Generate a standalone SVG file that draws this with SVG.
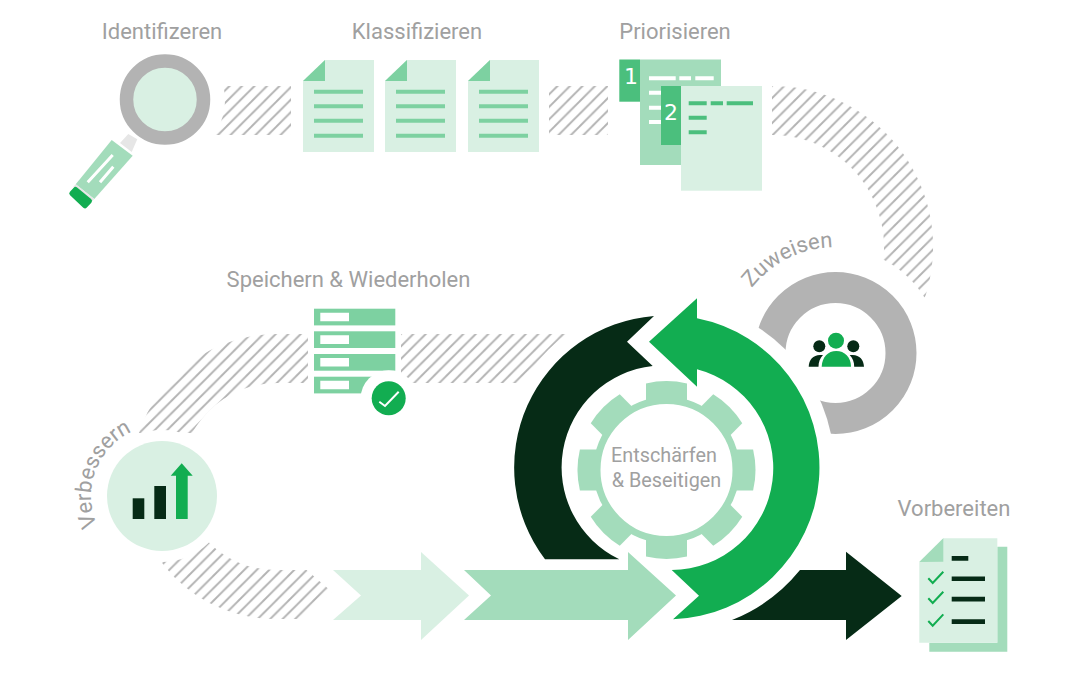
<svg xmlns="http://www.w3.org/2000/svg" width="1078" height="686" viewBox="0 0 1078 686">
<style>
.lbl{font-family:Roboto,"Liberation Sans",sans-serif;font-size:22px;fill:#a0a0a0}
.small{font-size:19.800px}
.mid{text-anchor:middle}
.hatch{fill:none;stroke-width:49}
.pale{fill:#d9f0e3}.soft{fill:#a3dcbb}.mint{fill:#7dd1a1}.tab{fill:#4bbf7d}.green{fill:#12ad51}.dark{fill:#062b16}.white{fill:#fff}
.tick{fill:none;stroke:#12ad51;stroke-width:2}
</style>
<defs>
<pattern id="hatch" patternUnits="userSpaceOnUse" width="12.5" height="12.5">
<path d="M-2 5L5 -2M-2 17.500L17.500 -2" stroke="#b3b3b3" stroke-width="2" fill="none"/>
</pattern>
<pattern id="hatch-b" href="#hatch" patternTransform="translate(3 0)"/>
<pattern id="hatch-c" href="#hatch" patternTransform="translate(4.700 0)"/>
<pattern id="hatch-d" href="#hatch" patternTransform="translate(6.800 0)"/>
<pattern id="hatch-e" href="#hatch" patternTransform="translate(-1.300 0)"/>
<mask id="halo" maskUnits="userSpaceOnUse" x="0" y="0" width="1078" height="686">
<rect width="1078" height="686" fill="#fff"/>
<circle cx="165" cy="100" r="60" fill="#000"/>
<circle cx="835.500" cy="353" r="105" fill="#000"/>
<circle cx="667" cy="468" r="167.500" fill="#000"/>
<circle cx="162" cy="496" r="66" fill="#000"/>
<circle cx="388.700" cy="398.300" r="28" fill="#000"/>
<rect x="308" y="304" width="93" height="92" fill="#000"/>
<polygon points="302,566 332,592 297,624 345,624 345,566" fill="#000"/>
<rect x="100" y="433" width="130" height="50" fill="#000"/>
</mask>
<mask id="loop-halo" maskUnits="userSpaceOnUse" x="0" y="0" width="1078" height="686">
<rect width="1078" height="686" fill="#fff"/>
<circle cx="667" cy="468" r="167.500" fill="#000"/>
</mask>
<path id="doc" class="pale" d="M22 0H71V92H0V21Z"/>
<path id="tooth" class="soft" d="M-20.500 -86.600A89 89 0 0 1 20.500 -86.600V-68H-20.500Z"/>
<path id="arcZ" d="M745 298A105.500 105.500 0 0 1 860 250"/>
<path id="arcV" d="M100.500 531.500A71 71 0 0 1 180 427.300"/>
</defs>

<g id="connectors">
<g id="hatching" mask="url(#halo)">
<rect x="200" y="86" width="91" height="49" fill="url(#hatch)"/>
<rect x="549" y="86" width="59" height="49" fill="url(#hatch-b)"/>
<path class="hatch" stroke="url(#hatch-c)" d="M772 110.500A136.500 136.500 0 0 1 876.600 334.700"/>
<path class="hatch" stroke="url(#hatch-d)" d="M570 358.500H277A121.500 121.500 0 0 0 155.500 480"/>
<path class="hatch" stroke="url(#hatch-e)" d="M157.500 477A117.500 117.500 0 0 0 275 594.500H340"/>
</g>
<polygon id="arrow-pale" class="pale" points="333,570 421,570 421,552 469,595.500 421,640 421,620 333,620 361,595.500"/>
<polygon id="arrow-soft" class="soft" points="464,570 628,570 628,552 676,595.500 628,640 628,620 464,620 491,595.500"/>
<path id="arrow-dark-loop" class="dark" d="M654 316A152 152 0 0 0 545 559.300H619.300A102 102 0 0 1 652.700 366L627 341.700Z"/>
<path id="arrow-green-loop" class="green" d="M649 341.700L697 298.300V318.300A152 152 0 0 1 673 619.300L699 595.700L671.700 570A102 102 0 0 0 697 369.300V386.700Z"/>
<path id="arrow-dark-out" class="dark" d="M732 620A167.500 167.500 0 0 0 800 570H846V551.700L901.700 596L846 640V620Z"/>
</g>

<g id="identifizieren">
<text class="lbl mid" x="162" y="38.500">Identifizeren</text>
<polygon points="128.300,134 137.300,139.300 131.700,152 120,143" fill="#e6e6e6"/>
<polygon class="soft" points="111.700,140 132.700,155.700 94.300,199 75.700,184.300"/>
<polygon points="75.700,184.300 94.300,199 92.300,201 73.300,186.700" fill="#e6e6e6"/>
<path class="green" stroke="#12ad51" stroke-width="5" stroke-linejoin="round" d="M75.500 189.500L89.500 201L85 205.800L71.800 193.500Z"/>
<path d="M112.700 155L87.700 182.300M113.300 166.700L100 182.300" stroke="#fff" stroke-width="3" fill="none"/>
<circle cx="165" cy="99.500" r="38.500" fill="#d9f0e3" stroke="#b3b3b3" stroke-width="13.500"/>
</g>

<g id="klassifizieren">
<text class="lbl mid" x="417" y="38.500">Klassifizieren</text>
<g id="doc-1" transform="translate(303 60)"><use href="#doc"/><path class="mint" d="M0 21L22 0V21Z"/><path class="mint" d="M11 29.700h49v4H11zM11 44.200h49v4H11zM11 58.700h49v4H11zM11 73.700h49v4H11z"/></g>
<g id="doc-2" transform="translate(385 60)"><use href="#doc"/><path class="mint" d="M0 21L22 0V21Z"/><path class="mint" d="M11 29.700h49v4H11zM11 44.200h49v4H11zM11 58.700h49v4H11zM11 73.700h49v4H11z"/></g>
<g id="doc-3" transform="translate(468 60)"><use href="#doc"/><path class="mint" d="M0 21L22 0V21Z"/><path class="mint" d="M11 29.700h49v4H11zM11 44.200h49v4H11zM11 58.700h49v4H11zM11 73.700h49v4H11z"/></g>
</g>

<g id="priorisieren">
<text class="lbl mid" x="675" y="38.500">Priorisieren</text>
<rect class="soft" x="640" y="59.500" width="81" height="105.500"/>
<rect class="tab" x="619.300" y="59.500" width="20.700" height="42.200"/>
<path class="white" d="M649 76.300h26.700v4H649zM679.300 76.300h11.700v4h-11.700zM695.300 76.300h18.400v4h-18.400zM649 90.700h12v4h-12zM649 105.700h12v4h-12zM649 120h12v4h-12z"/>
<rect x="661" y="86" width="20" height="59" class="tab"/>
<rect class="pale" x="681" y="86" width="81" height="104.700"/>
<path class="tab" d="M688.700 101.300h18v4h-18zM710.700 101.300h12.300v4h-12.300zM726.700 101.300h26.300v4h-26.300zM688.700 115.700h18v4h-18zM688.700 130.300h18v4h-18z"/>
<text x="631" y="84" font-family="DejaVu Sans,sans-serif" font-size="22" fill="#fff" text-anchor="middle">1</text>
<text x="671" y="120" font-family="DejaVu Sans,sans-serif" font-size="22" fill="#fff" text-anchor="middle">2</text>
</g>

<g id="zuweisen">
<text class="lbl"><textPath href="#arcZ" startOffset="12">Zuweisen</textPath></text>
<circle cx="835.500" cy="353" r="65.500" fill="none" stroke="#b3b3b3" stroke-width="31" mask="url(#loop-halo)"/>
<circle class="dark" cx="819.300" cy="346.300" r="6"/>
<circle class="dark" cx="853.300" cy="346.300" r="6"/>
<path class="dark" d="M808.700 366.700C809 360 813 355 820 355H823C820 358 818.500 362 818.500 366.700Z"/>
<path class="dark" d="M864 366.700C863.700 360 859.700 355 852.700 355H849.700C852.700 358 854.200 362 854.200 366.700Z"/>
<circle class="green" cx="836" cy="340.700" r="8"/>
<path class="green" d="M821.700 366.700C822 357 828 351 836.300 351C844.500 351 851 357 851 366.700Z"/>
</g>

<g id="entschaerfen">
<circle cx="666.500" cy="470" r="69.500" fill="none" stroke="#a3dcbb" stroke-width="7"/>
<g transform="translate(666.500 470)">
<use href="#tooth"/><use href="#tooth" transform="rotate(45)"/><use href="#tooth" transform="rotate(90)"/><use href="#tooth" transform="rotate(135)"/><use href="#tooth" transform="rotate(180)"/><use href="#tooth" transform="rotate(225)"/><use href="#tooth" transform="rotate(270)"/><use href="#tooth" transform="rotate(315)"/>
</g>
<text class="lbl small mid" x="664" y="461.500">Entschärfen</text>
<text class="lbl small mid" x="666.500" y="486.500">&amp; Beseitigen</text>
</g>

<g id="vorbereiten">
<text class="lbl mid" x="954" y="515.500">Vorbereiten</text>
<path class="soft" d="M997.300 546.700H1007.300V651.700H929.300V642.700H997.300Z"/>
<path class="pale" d="M943.300 538.300H997.300V642.700H919.300V562Z"/>
<path class="soft" d="M919.300 562L943.300 538.300V561.700Z"/>
<path class="dark" d="M951.700 556h16.600v4.700h-16.600zM951.700 576.400h33.300v4.700h-33.300zM951.700 596.700h33.300v4.700h-33.300zM951.700 619.300h33.300v4.700h-33.300z"/>
<path class="tick" d="M928.300 578.300L932.700 583L943.300 571.700M928.300 598.300L932.700 603L943.300 591.700M928.300 621L932.700 625.700L943.300 614.400"/>
</g>

<g id="speichern">
<text class="lbl mid" x="348.500" y="286.500">Speichern &amp; Wiederholen</text>
<rect class="mint" x="314" y="308.700" width="81.300" height="16.700"/>
<rect class="mint" x="314" y="331.300" width="81.300" height="16.700"/>
<rect class="mint" x="314" y="354" width="81.300" height="16.700"/>
<rect class="mint" x="314" y="376.700" width="81.300" height="16.700"/>
<path class="white" d="M320.300 312.700h28.700v8.600h-28.700zM320.300 335.300h28.700v8.600h-28.700zM320.300 358h28.700v8.600h-28.700zM320.300 380.700h28.700v8.600h-28.700z"/>
<circle class="white" cx="388.700" cy="398.300" r="28"/>
<circle class="green" cx="388.700" cy="398.300" r="17"/>
<path d="M379.300 401.700L385 406L398.700 391.700" fill="none" stroke="#fff" stroke-width="2"/>
</g>

<g id="verbessern">
<text class="lbl"><textPath href="#arcV" startOffset="7">Verbessern</textPath></text>
<circle class="pale" cx="162" cy="496" r="55"/>
<rect class="dark" x="132.700" y="498.300" width="11.600" height="20.700"/>
<rect class="dark" x="154.300" y="486" width="11.700" height="33"/>
<path class="green" d="M176 519V475.700H170.700L181.700 463.300L192.700 475.700H187.700V519Z"/>
</g>
</svg>
